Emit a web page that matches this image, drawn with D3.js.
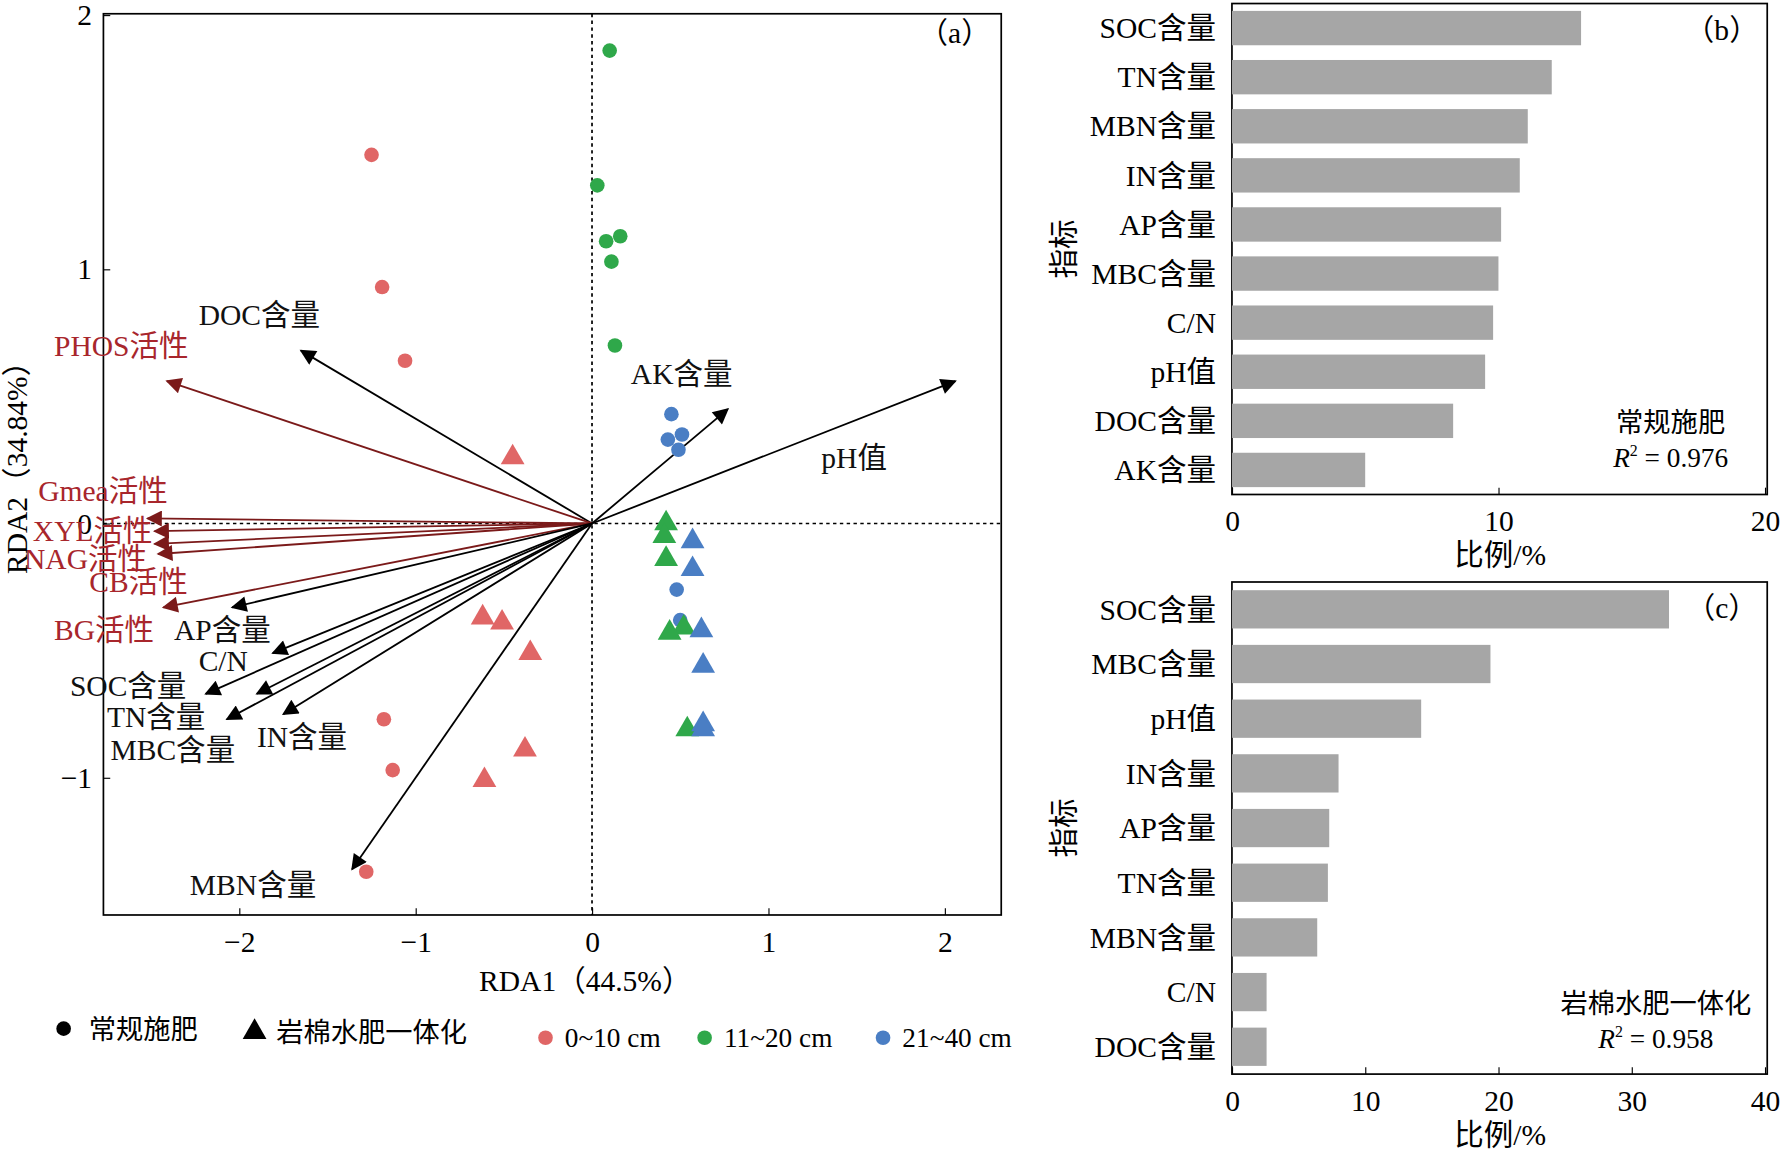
<!DOCTYPE html>
<html><head><meta charset="utf-8">
<script src="https://cdn.jsdelivr.net/npm/d3@7"></script>
<style>body{margin:0;background:#fff}text{font-family:"Liberation Serif","Noto Sans CJK SC",serif;}</style>
</head><body><svg></svg>
<script>
// sample scores: [rda1, rda2]
var convRed = [[-1.25,1.45],[-1.19,0.93],[-1.06,0.64],[-1.18,-0.77],[-1.13,-0.97],[-1.28,-1.37]];
var convGreen = [[0.10,1.86],[0.03,1.33],[0.08,1.11],[0.16,1.13],[0.11,1.03],[0.13,0.70]];
var convBlue = [[0.45,0.43],[0.51,0.35],[0.43,0.33],[0.49,0.29],[0.48,-0.26],[0.50,-0.38]];
var rockRed = [[-0.45,0.26],[-0.62,-0.37],[-0.51,-0.39],[-0.35,-0.51],[-0.38,-0.89],[-0.61,-1.01]];
var rockGreen = [[0.42,0.0],[0.41,-0.05],[0.42,-0.14],[0.52,-0.41],[0.44,-0.43],[0.54,-0.81]];
var rockBlue = [[0.57,-0.07],[0.57,-0.18],[0.62,-0.42],[0.63,-0.56],[0.63,-0.79],[0.63,-0.81]];

// arrows: name, tip, label anchor, enzyme?
var arrowNames = ["DOC含量","PHOS活性","AK含量","pH值","Gmea活性","XYL活性","NAG活性","CB活性","BG活性","AP含量","C/N","SOC含量","TN含量","MBC含量","IN含量","MBN含量"];
var arrowTips = [[-1.65,0.68],[-2.41,0.56],[0.77,0.45],[2.06,0.56],[-2.52,0.02],[-2.48,-0.03],[-2.48,-0.08],[-2.46,-0.12],[-2.43,-0.33],[-2.04,-0.33],[-1.81,-0.51],[-2.19,-0.67],[-1.90,-0.67],[-2.07,-0.77],[-1.75,-0.75],[-1.36,-1.36]];
var labelAt = [[-2.23,0.78],[-3.05,0.66],[0.22,0.55],[1.30,0.22],[-3.14,0.09],[-3.17,-0.07],[-3.22,-0.18],[-2.85,-0.27],[-3.05,-0.46],[-2.37,-0.46],[-2.23,-0.58],[-2.96,-0.68],[-2.75,-0.80],[-2.73,-0.93],[-1.90,-0.88],[-2.28,-1.46]];
var isEnzyme = [0,1,0,0,1,1,1,1,1,0,0,0,0,0,0,0];

var bCats = ["SOC含量","TN含量","MBN含量","IN含量","AP含量","MBC含量","C/N","pH值","DOC含量","AK含量"];
var bVals = [13.1,12.0,11.1,10.8,10.1,10.0,9.8,9.5,8.3,5.0];
var cCats = ["SOC含量","MBC含量","pH值","IN含量","AP含量","TN含量","MBN含量","C/N","DOC含量"];
var cVals = [32.8,19.4,14.2,8.0,7.3,7.2,6.4,2.6,2.6];

var W = 1782, H = 1164;
var svg = d3.select("svg").attr("width", W).attr("height", H)
    .attr("viewBox", "0 0 1568 1024");
var red = "#e06666", green = "#2fa84a", blue = "#4a7ec4", dark = "#7b1a1a", fs = 26;

svg.append("defs").selectAll("marker").data([["ak","#000"],["ar",dark]]).enter()
    .append("marker").attr("id", d => d[0]).attr("viewBox", "0 -5 10 10")
    .attr("refX", 9).attr("markerWidth", 7).attr("markerHeight", 7)
    .attr("markerUnits", "userSpaceOnUse").attr("orient", "auto")
    .append("path").attr("d", "M0,-5L10,0L0,5Z").attr("fill", d => d[1]);
svg.selectAll("marker").attr("markerWidth", 18).attr("markerHeight", 14);

// ---------- panel a ----------
var x = d3.scale = d3.scaleLinear().domain([-2.77, 2.32]).range([91, 881]);
var y = d3.scaleLinear().domain([-1.54, 2.005]).range([805, 12]);
var a = svg.append("g");
a.append("rect").attr("x", 91).attr("y", 12).attr("width", 790).attr("height", 793)
    .attr("fill", "none").attr("stroke", "#000").attr("stroke-width", 1.5);
a.append("g").attr("transform", "translate(0,805)")
    .call(d3.axisBottom(x).tickValues([-2,-1,0,1,2]).tickSize(-6).tickPadding(14).tickFormat(d => d < 0 ? "\u2212" + (-d) : d))
    .call(g => { g.select(".domain").remove(); g.selectAll("text").attr("font-size", fs).attr("font-family", "Liberation Serif"); });
a.append("g").attr("transform", "translate(91,0)")
    .call(d3.axisLeft(y).tickValues([-1,0,1,2]).tickSize(-6).tickPadding(10).tickFormat(d => d < 0 ? "\u2212" + (-d) : d))
    .call(g => { g.select(".domain").remove(); g.selectAll("text").attr("font-size", fs).attr("font-family", "Liberation Serif"); });
a.append("line").attr("x1", x(0)).attr("x2", x(0)).attr("y1", 12).attr("y2", 805).attr("stroke", "#000").attr("stroke-dasharray", "3,3").attr("stroke-width", 1.5);
a.append("line").attr("x1", 91).attr("x2", 881).attr("y1", y(0)).attr("y2", y(0)).attr("stroke", "#000").attr("stroke-dasharray", "3,3").attr("stroke-width", 1.5);

arrowTips.forEach((t, i) => {
    var c = isEnzyme[i] ? dark : "#000";
    a.append("line").attr("x1", x(0)).attr("y1", y(0)).attr("x2", x(t[0])).attr("y2", y(t[1]))
        .attr("stroke", c).attr("stroke-width", 1.6).attr("marker-end", isEnzyme[i] ? "url(#ar)" : "url(#ak)");
    a.append("text").attr("x", x(labelAt[i][0])).attr("y", y(labelAt[i][1]))
        .attr("font-size", fs).attr("fill", isEnzyme[i] ? "#a8262c" : "#111").text(arrowNames[i]);
});

var circ = d3.symbol().type(d3.symbolCircle).size(130);
var tri = d3.symbol().type(d3.symbolTriangle).size(190);
[[convRed, red, circ], [convGreen, green, circ], [convBlue, blue, circ],
 [rockRed, red, tri], [rockGreen, green, tri], [rockBlue, blue, tri]].forEach(s => {
    a.selectAll(null).data(s[0]).enter().append("path")
        .attr("d", s[2]).attr("fill", s[1])
        .attr("transform", d => "translate(" + x(d[0]) + "," + y(d[1]) + ")");
});
a.append("text").attr("x", 840).attr("y", 38).attr("text-anchor", "middle").attr("font-size", fs).text("（a）");
a.append("text").attr("x", 515).attr("y", 872).attr("text-anchor", "middle").attr("font-size", fs).text("RDA1（44.5%）");
a.append("text").attr("transform", "translate(24,405) rotate(-90)").attr("text-anchor", "middle").attr("font-size", fs).text("RDA2（34.84%）");

// legend
var lg = svg.append("g").attr("font-size", 24);
lg.append("path").attr("d", circ).attr("transform", "translate(56,905)").attr("fill", "#000");
lg.append("text").attr("x", 78).attr("y", 914).text("常规施肥");
lg.append("path").attr("d", tri).attr("transform", "translate(224,908)").attr("fill", "#000");
lg.append("text").attr("x", 243).attr("y", 917).text("岩棉水肥一体化");
[[red, 480, "0~10 cm"], [green, 620, "11~20 cm"], [blue, 777, "21~40 cm"]].forEach(l => {
    lg.append("path").attr("d", circ).attr("transform", "translate(" + l[1] + ",913)").attr("fill", l[0]);
    lg.append("text").attr("x", l[1] + 17).attr("y", 921).text(l[2]);
});

// ---------- bar panels ----------
function bars(cats, vals, top, bottom, max, ticks, tag, note, r2) {
    var g = svg.append("g");
    var bx = d3.scaleLinear().domain([0, max]).range([1084, 1553]);
    var by = d3.scaleBand().domain(cats).range([top, bottom]).paddingInner(0.3).paddingOuter(0.15);
    g.append("rect").attr("x", 1084).attr("y", top).attr("width", 471).attr("height", bottom - top)
        .attr("fill", "none").attr("stroke", "#000").attr("stroke-width", 1.5);
    g.selectAll(null).data(cats).enter().append("rect")
        .attr("x", bx(0)).attr("y", d => by(d)).attr("height", by.bandwidth())
        .attr("width", (d, i) => bx(vals[i]) - bx(0)).attr("fill", "#a6a6a6");
    g.append("g").attr("transform", "translate(0," + bottom + ")")
        .call(d3.axisBottom(bx).tickValues(ticks).tickSize(-6).tickPadding(14))
        .call(s => { s.select(".domain").remove(); s.selectAll("text").attr("font-size", fs).attr("font-family", "Liberation Serif"); });
    g.selectAll(null).data(cats).enter().append("text")
        .attr("x", 1070).attr("y", d => by(d) + by.bandwidth() / 2 + 9)
        .attr("text-anchor", "end").attr("font-size", fs).text(d => d);
    g.append("text").attr("x", 1515).attr("y", top + 32).attr("text-anchor", "middle").attr("font-size", fs).text(tag);
    g.append("text").attr("x", 1320).attr("y", bottom + 62).attr("text-anchor", "middle").attr("font-size", fs).text("比例/%");
    g.append("text").attr("transform", "translate(945," + ((top + bottom) / 2) + ") rotate(-90)")
        .attr("text-anchor", "middle").attr("font-size", fs).text("指标");
    g.append("text").attr("x", note[0]).attr("y", note[1]).attr("text-anchor", "middle").attr("font-size", 24).text(note[2]);
    var t = g.append("text").attr("x", note[0]).attr("y", note[1] + 31).attr("text-anchor", "middle").attr("font-size", 24);
    t.append("tspan").attr("font-style", "italic").text("R");
    t.append("tspan").attr("font-size", 14).attr("dy", -10).text("2");
    t.append("tspan").attr("dy", 10).text(" = " + r2);
}
bars(bCats, bVals, 3, 435, 20, [0,10,20], "（b）", [1470, 380, "常规施肥"], "0.976");
bars(cCats, cVals, 512, 945, 40, [0,10,20,30,40], "（c）", [1457, 891, "岩棉水肥一体化"], "0.958");
</script></body></html>
